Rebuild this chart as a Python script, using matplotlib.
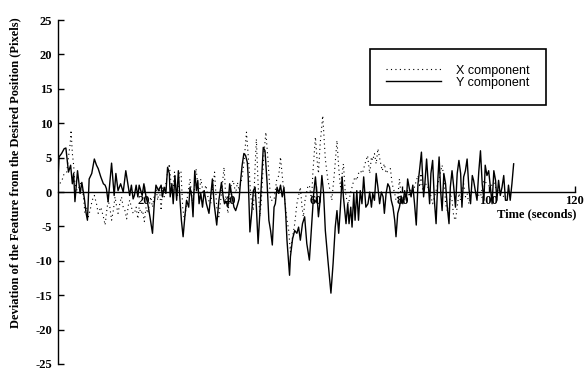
import matplotlib
matplotlib.use("Agg")
import matplotlib.pyplot as plt

plt.rcParams['axes.unicode_minus'] = False

# time stamps (s) and deviations (pixels)
t_y = [0.0, 0.3, 0.9, 1.5, 1.9, 2.5, 3.0, 3.4, 3.7, 4.0, 4.6, 5.2, 5.6, 6.2, 6.6, 6.9,
       7.3, 7.9, 8.5, 9.0, 9.4, 10.0, 10.6, 11.0, 11.3, 11.7, 12.5, 13.1, 13.5, 14.0,
       14.6, 15.2, 15.8, 16.4, 16.7, 17.1, 17.5,
       17.8, 18.2, 18.6, 18.9, 19.6, 20.0, 20.5, 20.9, 21.4, 22.0, 22.4, 22.8, 23.4,
       24.0, 24.3, 24.7, 25.1, 25.5, 25.9, 26.1, 26.5, 26.8, 27.2, 27.6, 28.0, 28.4,
       28.7, 29.1, 29.5, 29.9, 30.4, 30.7, 31.1, 31.4, 31.8, 32.2, 32.5, 32.8, 33.2,
       33.6, 34.0, 34.5, 35.1,
       35.9, 36.3, 36.9, 37.4, 38.0, 38.4, 38.7, 39.1, 39.5, 39.9, 40.3, 40.6, 40.9,
       41.3, 41.7, 42.1, 42.4, 42.8, 43.2, 43.6, 44.0, 44.2, 44.6, 45.0, 45.4, 45.8,
       46.1, 46.5, 46.9, 47.3, 47.7, 48.1, 48.6, 49.0, 49.4, 49.8, 50.2, 50.5, 50.9,
       51.3, 51.7, 52.1, 52.5, 52.9, 53.2, 53.8,
       54.0, 54.5, 55.0, 55.5, 55.9, 56.3, 56.8, 57.3, 57.8, 58.4, 59.0, 59.4, 59.8,
       60.2, 60.5, 60.9, 61.3, 61.7, 62.1, 62.7, 63.4, 63.9, 64.4, 64.8, 65.2, 65.6,
       66.0, 66.3, 66.9, 67.3, 67.6, 68.0, 68.3, 68.7, 69.0, 69.4, 69.8, 70.2, 70.6,
       71.0, 71.5,
       72.0, 72.4, 72.8, 73.1, 73.5, 73.9, 74.3, 74.7, 75.1, 75.5, 75.8, 76.2, 76.6,
       77.0, 77.4, 77.8, 78.2, 78.5, 78.9, 79.3, 79.7, 80.1, 80.5, 80.9, 81.2, 81.6,
       82.0, 82.4, 82.8, 83.2, 83.6, 84.0, 84.4, 84.9, 85.2, 85.6, 86.0, 86.3, 86.6,
       87.0, 87.4, 87.8, 88.2, 88.5, 88.9, 89.2, 89.6,
       90.0, 90.4, 90.8, 91.1, 91.5, 91.9, 92.3, 92.7, 93.1, 93.5, 93.8, 94.2, 94.6,
       95.0, 95.4, 95.8, 96.2, 96.5, 96.9, 97.3, 97.7, 98.1, 98.5, 98.9, 99.2, 99.6,
       100.0, 100.4, 100.8, 101.2, 101.6, 101.9, 102.3, 102.7, 103.1, 103.5, 103.9,
       104.3, 104.6, 105.0, 105.4, 105.8]
y_comp = [0.7, 5.1, 5.6, 6.3, 6.4, 2.9, 3.9, 1.2, 2.7, -1.4, 3.1, -0.2, 1.4, -1.0, -3.1, -4.1,
          1.9, 2.7, 4.8, 3.9, 3.4, 2.2, 1.2, 1.0, 0.5, -1.4, 4.2, -0.5, 2.7, 0.2,
          1.2, 0.0, 3.1, 0.7, -0.5, 1.0, -1.0,
          -0.5, 1.0, -0.7, 1.0, -0.5, 1.2, -0.7, -1.7, -3.6, -6.0, -1.7, 1.0, 0.2,
          1.0, -0.7, 0.7, -0.2, 3.6, 2.7, -0.7, 1.2, -1.7, 2.4, -1.2, 3.1, -1.4,
          -4.1, -6.5, -3.6, -1.2, -2.2, 0.7, -0.7, -3.6, 3.1, 0.2, 1.7, -1.7, -0.2,
          -2.2, 0.2, -1.7, -3.1,
          1.9, -1.7, -4.8, -1.2, 1.4, -0.7, -1.7, -1.4, -2.2, 1.2, -0.2, -1.2, -2.2,
          -2.7, -1.9, -1.0, 1.4, 3.9, 5.6, 5.3, 4.3, 2.2, -5.8, -3.1, 0.2, 0.7,
          -2.2, -7.5, -3.1, 1.7, 6.5, 6.0, 1.2, -4.1, -5.6, -7.7, -2.2, -1.7, 0.7,
          -0.2, 1.0, -0.7, 0.7, -3.1, -7.0, -12.1,
          -9.4, -6.8, -5.6, -6.0, -5.1, -7.0, -4.6, -3.6, -7.5, -9.9, -4.1, -0.2, 2.2,
          -0.7, -3.6, -1.2, 2.4, -0.2, -5.6, -9.9, -14.7, -10.4, -5.1, -2.7, -6.0, -2.2,
          2.2, -0.7, -4.6, -1.7, -4.6, -2.2, -5.1, -0.2, -4.1, 0.2, -4.1, 0.2, -1.7,
          2.2, -2.2,
          -1.7, 0.0, -2.2, -0.2, -1.2, 2.7, 0.7, -1.7, 0.0, -0.7, -3.1, -0.2, 1.2,
          0.7, -1.2, -2.2, -4.1, -6.5, -3.1, -2.2, -0.7, -1.7, 0.2, -1.2, 1.9, 0.5,
          -0.7, 1.0, -1.7, -4.8, 1.2, 3.4, 5.8, -0.7, 1.2, 4.8, 1.2, -1.7, 2.7,
          4.6, -1.2, -4.6, 1.7, 5.1, -0.2, -2.7, 2.7,
          1.2, -2.2, -4.6, 0.7, 3.1, 0.7, -2.2, 2.7, 4.6, 2.7, -2.2, 2.2, 3.1,
          4.8, 0.7, -1.7, 2.4, 1.7, 0.2, -1.2, 2.9, 6.0, 1.2, -1.2, 3.9, 2.4,
          3.1, 0.7, -1.7, 3.1, 1.7, -1.2, 1.7, -0.5, 0.7, 2.4, -1.2,
          -1.2, 1.0, -1.2, 1.2, 4.1]

t_x = [0.0, 0.5, 1.1, 1.5, 2.1, 2.5, 2.9, 3.1, 3.4, 3.7, 4.0, 4.5, 5.0, 5.4, 6.0, 6.3,
       6.7, 7.1, 7.5, 8.0, 8.5, 9.0, 9.4, 10.0, 10.6, 11.0, 11.3, 11.7, 12.1, 12.5,
       12.9, 13.3, 13.7, 14.0, 14.4, 14.8, 15.2, 15.6, 16.0, 16.4, 16.7, 17.1, 17.5,
       17.8, 18.2, 18.6, 18.9, 19.3, 19.7, 20.1, 20.5, 20.9, 21.3, 21.6, 22.0, 22.4,
       22.8, 23.2, 23.6, 24.0, 24.3, 24.7, 25.1, 25.5, 25.9, 26.3, 26.7, 27.1, 27.4,
       27.8, 28.2, 28.6, 29.0, 29.4, 29.7, 30.1, 30.7, 31.3, 31.7, 32.1, 32.5, 32.8,
       33.2, 33.8, 34.4, 35.0,
       35.5, 35.9, 36.4, 36.9, 37.4, 38.0, 38.6, 39.0, 39.5, 40.1, 40.7, 41.3, 41.7,
       42.1, 42.8, 43.2, 43.8, 44.4, 44.8, 45.4, 45.8, 46.1, 46.5, 46.9, 47.2, 47.8,
       48.3, 48.8, 49.4, 50.2, 50.8, 51.3, 51.7, 52.1, 52.6, 53.1, 53.6, 54.0,
       54.5, 55.0, 55.5, 55.9, 56.3, 56.7, 57.0, 57.4, 58.0, 58.4, 58.9, 59.2, 59.8,
       60.2, 60.5, 60.9, 61.5, 62.1, 62.7, 63.2, 63.6, 64.2, 64.8, 65.2, 65.6, 66.0,
       66.3, 66.7, 67.1, 67.5, 67.9, 68.3, 68.7, 69.0, 69.4, 69.8, 70.2, 70.7, 71.3,
       71.9,
       72.4, 72.8, 73.1, 73.5, 73.9, 74.3, 74.8, 75.3, 75.8, 76.2, 76.6, 77.2, 77.6,
       78.2, 78.5, 78.9, 79.3, 79.7, 80.1, 80.7, 81.2, 81.6, 82.0, 82.4, 83.0, 83.6,
       84.0, 84.3, 84.7, 85.5, 86.3, 87.0, 87.8, 88.6, 89.2, 89.7,
       90.0, 90.4, 90.8, 91.1, 91.5, 91.9, 92.3, 92.7, 93.1, 93.5, 93.8, 94.2, 94.6,
       95.0, 95.4, 95.8, 96.5, 97.3, 98.1, 98.9, 99.6, 100.4, 101.2, 101.9, 102.7,
       103.5, 104.3, 105.0]
x_comp = [0.7, 1.2, 1.9, 2.7, 2.9, 5.1, 7.0, 9.0, 5.6, 3.9, 1.2, 0.2, 0.7, 1.4, -0.7, -3.1,
          -2.2, -3.6, -2.7, -1.2, -0.5, -1.7, -3.1, -2.2, -3.6, -4.8, -3.1, -1.2, -2.2, -4.1,
          -2.7, -0.7, -2.2, -3.1, -1.7, -0.7, -2.2, -2.7, -3.9, -1.9, -1.2, -2.2, -3.1,
          -3.1, -2.2, -3.9, -2.2, -3.1, -2.7, -4.3, -2.2, -3.1, -1.7, -0.7, -2.2, -0.5,
          0.7, -1.2, 0.7, -2.7, 0.7, -0.7, 1.2, 2.9, 4.1, 1.2, -0.2, 2.9, 0.7,
          -0.7, 2.7, 3.1, -2.2, -4.1, -2.7, -0.7, 1.9, -1.7, 0.2, 3.4, 1.2, -0.7,
          1.9, -0.2, 1.0, -1.2,
          -1.7, 0.2, 2.9, -2.2, -3.6, -0.2, 3.6, -0.7, -3.1, 0.7, 1.7, -0.2, 1.4,
          0.2, 2.2, 4.1, 8.7, 3.6, -0.7, -2.7, 3.6, 7.7, 1.2, -3.6, -1.7, 5.1,
          8.7, 4.6, -1.2, -1.2, 1.7, 2.4, 5.1, 2.4, -0.7, -3.6, -5.6, -8.7,
          -6.5, -4.6, -1.7, -0.5, 0.7, -2.2, -3.6, -1.2, 0.7, 1.0, -1.2, 2.7, 8.0,
          4.6, 2.7, 7.0, 11.1, 4.8, 1.7, 0.2, -1.2, 2.7, 7.5, 3.6, 0.7, 2.7,
          4.1, 0.2, -1.2, -1.7, -0.2, 0.7, 1.7, 2.2, 1.7, 2.7, 3.1, 2.7, 4.1,
          5.3,
          2.7, 5.1, 4.6, 5.6, 4.1, 6.3, 4.6, 3.1, 4.1, 2.7, 3.1, 3.4, 1.2,
          -0.2, -1.2, -0.7, 1.9, -0.7, -1.4, -0.7, 0.2, -0.7, 0.5, -0.2, 1.2, 2.4,
          0.7, 2.7, 0.2, 1.2, 0.2, -1.7, 0.2, 2.2, 3.9, 1.7,
          -1.7, -2.7, -3.1, -0.2, -1.2, -3.6, -4.1, -2.2, -0.2, -1.2, 0.2, 1.2, -0.7,
          -0.2, -1.7, -0.2, 0.2, -0.2, -0.7, 1.7, 1.2, 0.7, 1.4, 0.2, 0.2,
          -0.7, -0.7, 0.2]

x_ticks = [20, 40, 60, 80, 100, 120]
y_ticks = [-25, -20, -15, -10, -5, 0, 5, 10, 15, 20, 25]

serif = {'family': 'Liberation Serif', 'weight': 'bold', 'size': 9}

fig = plt.figure(figsize=(5.87, 3.71), dpi=100)
ax = fig.add_axes([0.0983, 0.0189, 0.881, 0.927])

ax.plot(t_x, x_comp, color='black', lw=0.8, linestyle=(0, (1, 3)), label='X component')
ax.plot(t_y, y_comp, color='black', lw=1.0, label='Y component')

ax.set_xlim(0, 120)
ax.set_ylim(-25, 25)
ax.spines['top'].set_visible(False)
ax.spines['right'].set_visible(False)
ax.spines['bottom'].set_position(('data', 0))
ax.spines['left'].set_linewidth(1.0)
ax.spines['bottom'].set_linewidth(1.0)

ax.set_xticks(x_ticks)
ax.set_yticks(y_ticks)
ax.tick_params(axis='both', direction='in', length=4.5, width=1.0)
ax.tick_params(axis='x', pad=2)
ax.tick_params(axis='y', pad=4)
for lab in ax.get_xticklabels() + ax.get_yticklabels():
    lab.set_family('Liberation Serif')
    lab.set_fontsize(9)
    lab.set_fontweight('bold')

ax.text(120.3, -3.3, 'Time (seconds)', ha='right', va='center', **serif)
fig.text(15 / 587, 1 - 173 / 371,
         'Deviation of the Feature from the Desired Position (Pixels)',
         rotation=90, ha='center', va='center', **serif)

leg = ax.legend(loc='upper right', bbox_to_anchor=(0.944, 0.917), borderaxespad=0,
                prop={'family': 'Liberation Sans', 'size': 9},
                handlelength=4.4, handletextpad=1.2, labelspacing=0.0,
                borderpad=1.3, fancybox=False, framealpha=1)
leg.get_frame().set_edgecolor('black')
leg.get_frame().set_linewidth(1.2)

fig.savefig('out.png', dpi=100)
